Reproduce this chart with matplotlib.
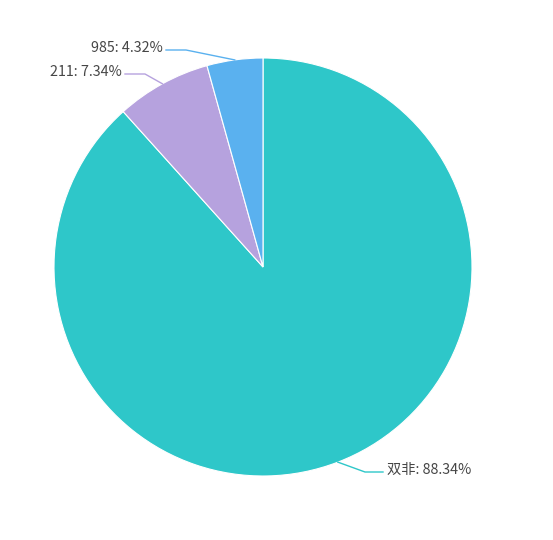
import numpy as np
import matplotlib
matplotlib.use('Agg')
import matplotlib.pyplot as plt

plt.rcParams['font.family'] = ['Noto Sans CJK SC', 'DejaVu Sans']

labels = ['双非', '211', '985']
values = [88.34, 7.34, 4.32]
colors = ['#2ec7c9', '#b6a2de', '#5ab1ef']

W, H = 553, 540
cx, cy, r = 263, 267, 209

fig = plt.figure(figsize=(W / 100, H / 100), dpi=100)
ax = fig.add_axes([0, 0, 1, 1])

ax.pie(values, colors=colors, startangle=90, counterclock=False,
       center=(cx, H - cy), radius=r, normalize=True,
       wedgeprops=dict(edgecolor='white', linewidth=0.8))

# pie() resets the limits, so set the pixel frame afterwards
ax.set_xlim(0, W)
ax.set_ylim(0, H)
ax.set_aspect('equal')
ax.axis('off')

# label leader lines: (elbow, line end, text x, alignment) in pixel coords
layout = {
    '双非': ((365, 472), (383, 472), 387, 'left'),
    '211': ((145, 74), (125, 74), 122, 'right'),
    '985': ((186, 50), (166, 50), 163, 'right'),
}

total = sum(values)
start = 90.0
for lab, val, col in zip(labels, values, colors):
    span = 360.0 * val / total
    mid = np.radians(start - span / 2)
    start -= span
    p0 = (cx + r * np.cos(mid), cy - r * np.sin(mid))
    elbow, end, tx, ha = layout[lab]
    xs = [p0[0], elbow[0], end[0]]
    ys = [H - p0[1], H - elbow[1], H - end[1]]
    ax.plot(xs, ys, color=col, lw=1)
    ax.text(tx, H - end[1] + 2, f'{lab}: {val:.2f}%', ha=ha, va='center',
            fontsize=10.3, color='#464646')

fig.savefig('out.png', dpi=100)
